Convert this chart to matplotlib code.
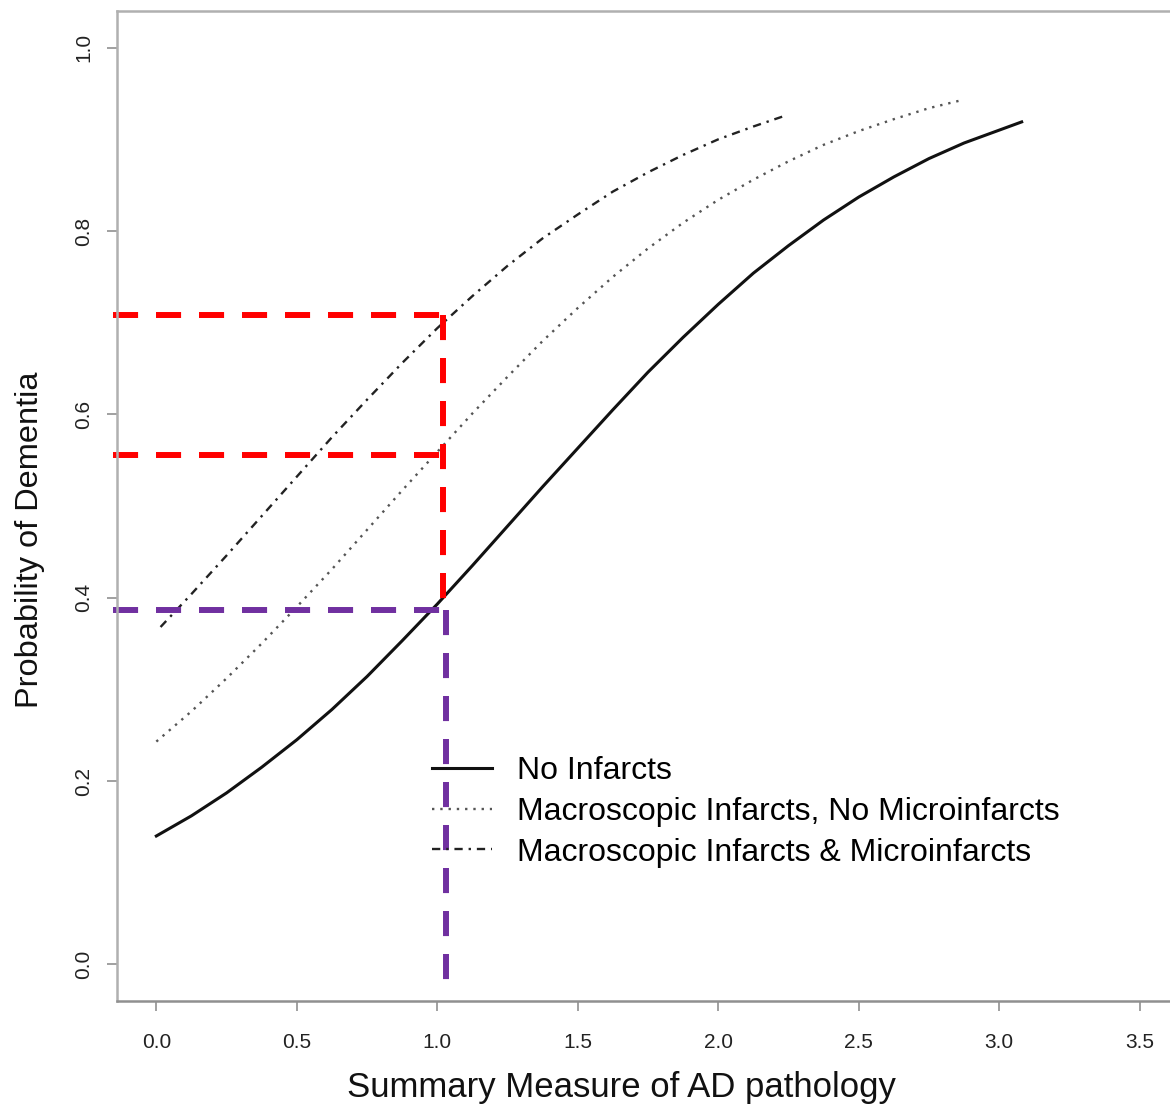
import matplotlib
matplotlib.use("Agg")
import matplotlib.pyplot as plt

plt.rcParams['font.family'] = ['Liberation Sans', 'DejaVu Sans']

# --- values ---
x_none = [0.0, 0.125, 0.25, 0.375, 0.5, 0.625, 0.75, 0.875, 1.0, 1.125, 1.25, 1.375,
          1.5, 1.625, 1.75, 1.875, 2.0, 2.125, 2.25, 2.375, 2.5, 2.625, 2.75, 2.875, 3.08]
p_none = [0.140, 0.162, 0.187, 0.215, 0.245, 0.278, 0.314, 0.353, 0.393, 0.435, 0.478, 0.521,
          0.563, 0.605, 0.646, 0.684, 0.720, 0.754, 0.784, 0.812, 0.837, 0.859, 0.879, 0.896, 0.919]

x_macro = [0.0, 0.125, 0.25, 0.375, 0.5, 0.625, 0.75, 0.875, 1.0, 1.125, 1.25, 1.375,
           1.5, 1.625, 1.75, 1.875, 2.0, 2.125, 2.25, 2.375, 2.5, 2.625, 2.75, 2.87]
p_macro = [0.243, 0.276, 0.312, 0.350, 0.390, 0.431, 0.474, 0.517, 0.559, 0.601, 0.641, 0.680,
           0.716, 0.750, 0.781, 0.809, 0.834, 0.856, 0.876, 0.894, 0.909, 0.922, 0.934, 0.943]

x_both = [0.015, 0.125, 0.25, 0.375, 0.5, 0.625, 0.75, 0.875, 1.0, 1.125, 1.25, 1.375,
          1.5, 1.625, 1.75, 1.875, 2.0, 2.125, 2.24]
p_both = [0.368, 0.404, 0.446, 0.489, 0.532, 0.575, 0.616, 0.656, 0.694, 0.729, 0.762, 0.792,
          0.818, 0.843, 0.864, 0.883, 0.900, 0.914, 0.926]

labels = ['No Infarcts',
          'Macroscopic Infarcts, No Microinfarcts',
          'Macroscopic Infarcts & Microinfarcts']

# reference lines at AD pathology ~1.02
x_ref = 1.02
x_start = -0.155
p_ref_red = [0.708, 0.556]
p_ref_purple = 0.387
y_purple_end = -0.025

xticks = [0.0, 0.5, 1.0, 1.5, 2.0, 2.5, 3.0, 3.5]
yticks = [0.0, 0.2, 0.4, 0.6, 0.8, 1.0]

fig = plt.figure(figsize=(11.7, 11.08), dpi=100)
ax = fig.add_axes([117 / 1170, 107 / 1108, 1062 / 1170, 990 / 1108])

ax.plot(x_none, p_none, color='#111111', lw=2.2, label=labels[0])
ax.plot(x_macro, p_macro, color='#555555', lw=1.7, linestyle=(0, (1, 2.5)), label=labels[1])
ax.plot(x_both, p_both, color='#222222', lw=1.7, linestyle=(0, (3.5, 2.5, 1, 2.5)), label=labels[2])

dash = (0, (4.2, 3.0))
red = '#ff0000'
purple = '#7030a0'
for p in p_ref_red:
    ax.plot([x_start, x_ref], [p, p], color=red, lw=4.3, linestyle=dash, clip_on=False)
ax.plot([x_ref, x_ref], [p_ref_red[0], p_ref_purple], color=red, lw=4.3, linestyle=dash)
ax.plot([x_start, x_ref], [p_ref_purple, p_ref_purple], color=purple, lw=4.3,
        linestyle=dash, clip_on=False)
ax.plot([x_ref + 0.01, x_ref + 0.01], [p_ref_purple, y_purple_end], color=purple, lw=4.3,
        linestyle=dash)

ax.set_xlim(-0.14, 3.64)
ax.set_ylim(-0.04, 1.04)
ax.set_xticks(xticks)
ax.set_xticklabels([f'{v:.1f}' for v in xticks])
ax.set_yticks(yticks)
ax.set_yticklabels([f'{v:.1f}' for v in yticks], rotation=90, va='center')

for side in ['left', 'top']:
    ax.spines[side].set_color('#b0b0b0')
    ax.spines[side].set_linewidth(1.8)
ax.spines['bottom'].set_color('#909090')
ax.spines['bottom'].set_linewidth(1.8)
ax.spines['right'].set_color('#909090')
ax.tick_params(axis='both', length=7, width=1.2, color='#909090',
               labelsize=15, labelcolor='#222222')
ax.tick_params(axis='x', pad=16)
ax.tick_params(axis='y', pad=10)

ax.set_xlabel('Summary Measure of AD pathology', fontsize=25, color='#111111')
ax.set_ylabel('Probability of Dementia', fontsize=23.4, color='#111111')
ax.xaxis.set_label_coords(0.4746, -0.097)
ax.xaxis.label.set_va('baseline')
ax.yaxis.set_label_coords(-0.0744, 0.4657)
ax.yaxis.label.set_va('baseline')

ax.legend(loc='upper left', bbox_to_anchor=(0.2966, 0.247), frameon=False,
          fontsize=23, handlelength=1.875, handletextpad=0.8, labelspacing=0.33,
          borderpad=0, borderaxespad=0)

fig.savefig('out.png', dpi=100)
